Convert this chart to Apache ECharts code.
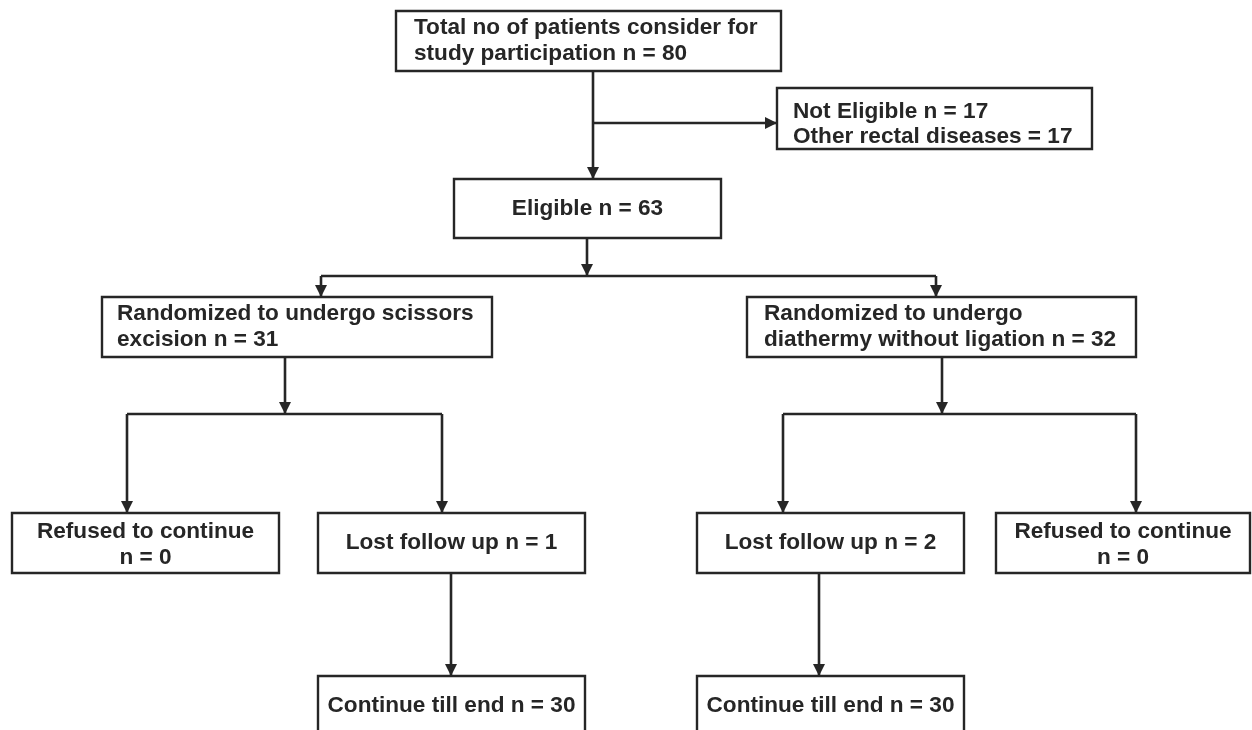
<!DOCTYPE html>
<html style="height: 100%">

	<head>
		<meta charset="utf-8">
	</head>

	<body style="height: 100%; margin: 0; background: #fff">
		<div id="container" style="width: 1252px; height: 730px"></div>

		<script type="text/javascript" src="https://cdn.jsdelivr.net/npm/echarts@6/dist/echarts.min.js"></script>

		<script type="text/javascript">
			// flow stages (text) and the patient counts that go in them
			var stageText = [
				'Total no of patients consider for\nstudy participation n = {n}',
				'Not Eligible n = {n}\nOther rectal diseases = {n}',
				'Eligible n = {n}',
				'Randomized to undergo scissors\nexcision n = {n}',
				'Randomized to undergo\ndiathermy without ligation n = {n}',
				'Refused to continue\nn = {n}',
				'Lost follow up n = {n}',
				'Lost follow up n = {n}',
				'Refused to continue\nn = {n}',
				'Continue till end n = {n}',
				'Continue till end n = {n}'
			];
			var stageCounts = [80, 17, 63, 31, 32, 0, 1, 2, 0, 30, 30];

			// box layout in axis units: x0, y0, x1, y1, align, text padding, text shift
			var boxLayout = [
				[396, 11, 781, 71, 'left', 18, 0],
				[777, 88, 1092, 149, 'left', 16, 6],
				[454, 179, 721, 238, 'center', 0, 0],
				[102, 297, 492, 357, 'left', 15, 0],
				[747, 297, 1136, 357, 'left', 17, 0],
				[12, 513, 279, 573, 'center', 0, 2],
				[318, 513, 585, 573, 'center', 0, 0],
				[697, 513, 964, 573, 'center', 0, 0],
				[996, 513, 1250, 573, 'center', 0, 2],
				[318, 676, 585, 736, 'center', 0, 0],
				[697, 676, 964, 736, 'center', 0, 0]
			];

			// connectors: from, to, arrow head at the end
			var links = [
				[593, 71, 593, 179, 1],
				[593, 123, 777, 123, 1],
				[587, 238, 587, 276, 1],
				[321, 276, 936, 276, 0],
				[321, 276, 321, 297, 1],
				[936, 276, 936, 297, 1],
				[285, 357, 285, 414, 1],
				[127, 414, 442, 414, 0],
				[127, 414, 127, 513, 1],
				[442, 414, 442, 513, 1],
				[942, 357, 942, 414, 1],
				[783, 414, 1136, 414, 0],
				[783, 414, 783, 513, 1],
				[1136, 414, 1136, 513, 1],
				[451, 573, 451, 676, 1],
				[819, 573, 819, 676, 1]
			];

			var ink = '#262626';

			var dom = document.getElementById("container");
			var myChart = echarts.init(dom);

			var option = {
				animation: false,
				backgroundColor: '#fff',
				grid: { left: 0, right: 0, top: 0, bottom: 0 },
				xAxis: { type: 'value', min: 0, max: 1252, show: false },
				yAxis: { type: 'value', min: 0, max: 730, inverse: true, show: false },
				series: [{
						type: 'custom',
						name: 'links',
						data: links,
						encode: { x: [0, 2], y: [1, 3] },
						renderItem: function(params, api) {
							var a = api.coord([api.value(0), api.value(1)]);
							var b = api.coord([api.value(2), api.value(3)]);
							var children = [{
								type: 'line',
								shape: { x1: a[0], y1: a[1], x2: b[0], y2: b[1] },
								style: { stroke: ink, lineWidth: 2.6 }
							}];
							if (api.value(4)) {
								var dx = b[0] - a[0], dy = b[1] - a[1];
								var len = Math.sqrt(dx * dx + dy * dy);
								var ux = dx / len, uy = dy / len;
								var hl = 12, hw = 6;
								children.push({
									type: 'polygon',
									shape: {
										points: [
											[b[0], b[1]],
											[b[0] - ux * hl - uy * hw, b[1] - uy * hl + ux * hw],
											[b[0] - ux * hl + uy * hw, b[1] - uy * hl - ux * hw]
										]
									},
									style: { fill: ink }
								});
							}
							return { type: 'group', children: children };
						}
					},
					{
						type: 'custom',
						name: 'stages',
						data: boxLayout.map(function(b) { return [b[0], b[1], b[2], b[3]]; }),
						encode: { x: [0, 2], y: [1, 3] },
						renderItem: function(params, api) {
							var i = params.dataIndex;
							var lay = boxLayout[i];
							var p0 = api.coord([api.value(0), api.value(1)]);
							var p1 = api.coord([api.value(2), api.value(3)]);
							var x = Math.min(p0[0], p1[0]), y = Math.min(p0[1], p1[1]);
							var w = Math.abs(p1[0] - p0[0]), h = Math.abs(p1[1] - p0[1]);
							var label = stageText[i].replace(/\{n\}/g, stageCounts[i]);
							return {
								type: 'group',
								children: [{
										type: 'rect',
										shape: { x: x, y: y, width: w, height: h },
										style: { fill: '#fff', stroke: ink, lineWidth: 2.4 }
									},
									{
										type: 'text',
										style: {
											text: label,
											x: lay[4] === 'left' ? x + lay[5] : x + w / 2,
											y: y + h / 2 + lay[6],
											align: lay[4],
											verticalAlign: 'middle',
											fontFamily: '"Liberation Sans", Arial, sans-serif',
											fontWeight: 'bold',
											fontSize: 22.6,
											lineHeight: 25.5,
											fill: ink
										}
									}
								]
							};
						}
					}
				]
			};

			myChart.setOption(option);
		</script>
	</body>

</html>
